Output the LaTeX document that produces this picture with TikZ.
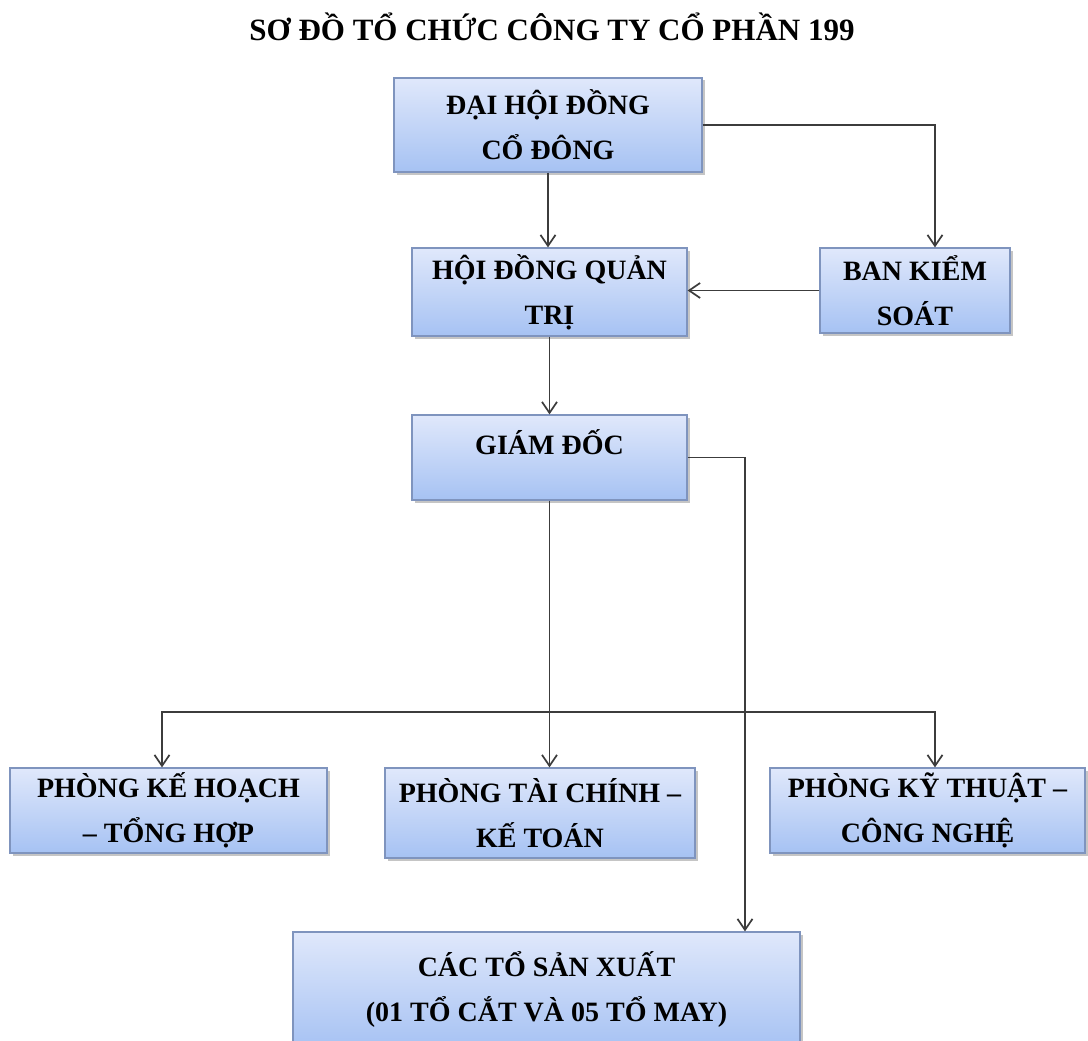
\documentclass[tikz,border=0pt]{standalone}
\usepackage{fontspec}
\setmainfont{Liberation Serif}
\usetikzlibrary{arrows.meta,shadows}
\definecolor{boxtop}{HTML}{E0E8FB}
\definecolor{boxbot}{HTML}{A6C2F3}
\definecolor{boxline}{HTML}{7F94BE}
\definecolor{lineclr}{HTML}{3C3C3C}
\begin{document}
\begin{tikzpicture}[x=1pt,y=-1pt,
  orgbox/.style={draw=boxline, line width=1.2pt, top color=boxtop, bottom color=boxbot,
    inner sep=0pt, align=center, font=\fontsize{28}{45}\selectfont\bfseries,
    drop shadow={shadow xshift=2.5pt, shadow yshift=-2.5pt, opacity=0.45, fill=gray}},
  conn/.style={draw=lineclr, line width=1.7pt, -{Straight Barb[length=11pt,width=15pt]}},
  titlefont/.style={font=\fontsize{31}{36}\selectfont\bfseries}]
\useasboundingbox (0,0) rectangle (1088,1041);
\fill[white] (0,0) rectangle (1088,1041);
\node[titlefont] (title) at (552,27) {SƠ ĐỒ TỔ CHỨC CÔNG TY CỔ PHẦN 199};

\node[orgbox, minimum width=308pt, minimum height=94pt] (dh) at (548,125) {ĐẠI HỘI ĐỒNG\\CỔ ĐÔNG};
\node[orgbox, minimum width=275pt, minimum height=88pt] (hd) at (549.5,292) {HỘI ĐỒNG QUẢN\\TRỊ};
\node[orgbox, minimum width=190pt, minimum height=85pt] (bks) at (915,290.5) {BAN KIỂM\\SOÁT};
\node[orgbox, minimum width=275pt, minimum height=85pt, text height=20pt, text depth=26pt] (gd) at (549.5,457.5) {GIÁM ĐỐC};
\node[orgbox, minimum width=317pt, minimum height=85pt] (kh) at (168.5,810.5) {PHÒNG KẾ HOẠCH\\– TỔNG HỢP};
\node[orgbox, minimum width=310pt, minimum height=90pt] (tc) at (540,813) {PHÒNG TÀI CHÍNH –\\KẾ TOÁN};
\node[orgbox, minimum width=315pt, minimum height=85pt] (kt) at (927.5,810.5) {PHÒNG KỸ THUẬT –\\CÔNG NGHỆ};
\node[orgbox, minimum width=507pt, minimum height=116pt] (sx) at (546.5,990) {CÁC TỔ SẢN XUẤT\\(01 TỔ CẮT VÀ 05 TỔ MAY)};

\draw[conn] (dh.south) -- (dh.south |- hd.north);
\draw[conn] (dh.east) -| ([xshift=20pt]bks.north);
\draw[conn] (bks.west) -- (bks.west -| hd.east);
\draw[conn] (hd.south) -- (gd.north);
\draw[conn] (gd.east) -| ([xshift=198.5pt]sx.north);
\draw[conn] (gd.south) -- (gd.south |- tc.north);
\coordinate (bus) at (549.5,712);
\draw[conn] (bus) -| ([xshift=-6.5pt]kh.north);
\draw[conn] (bus) -| ([xshift=7.5pt]kt.north);
\end{tikzpicture}
\end{document}
